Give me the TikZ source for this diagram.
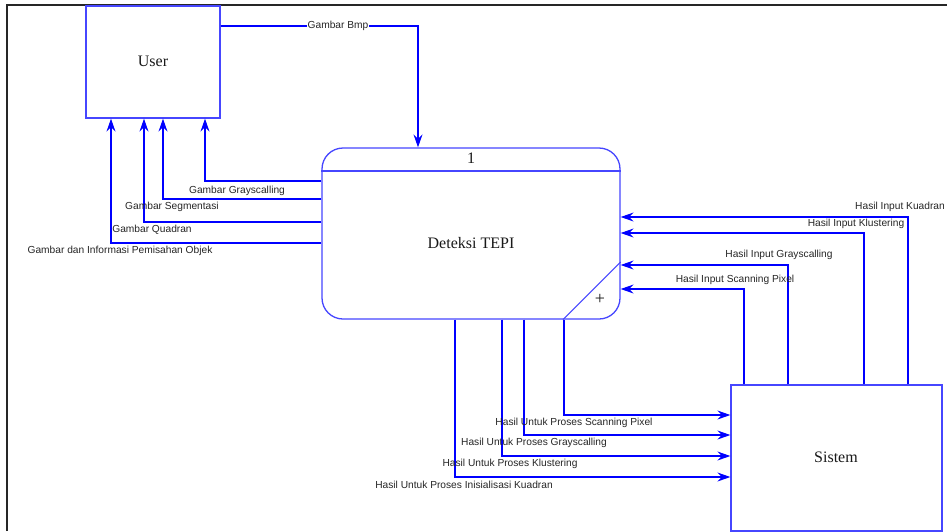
\documentclass[tikz,border=0pt]{standalone}
\usepackage{fontspec}
\setmainfont{Liberation Serif}
\setsansfont{Liberation Sans}
\usetikzlibrary{arrows.meta}
\definecolor{lnblue}{RGB}{0,0,255}
\definecolor{bxblue}{RGB}{70,70,255}
\begin{document}
\begin{tikzpicture}[x=1pt,y=-1pt,
  box/.style={draw=bxblue, line width=1.3pt, fill=white, inner sep=0pt},
  flow/.style={draw=lnblue, line width=1.1pt, -{Stealth[length=13pt,width=9pt,inset=4.5pt]}},
  lbl/.style={font=\sffamily\fontsize{10.2}{12}\selectfont, text=black!85, inner sep=1pt},
  ttl/.style={font=\fontsize{16}{19}\selectfont, text=black!90}]
\useasboundingbox (0,0) rectangle (947,531);
\fill[white] (0,0) rectangle (947,531);
\draw[line width=2pt, black!85] (7,531) -- (7,5) -- (947,5);

% nodes
\node[box, minimum width=134pt, minimum height=112pt] (user) at (153,62) {};
\node[ttl] (usert) at (153,61) {User};
\node[box, rounded corners=21pt, minimum width=298pt, minimum height=171pt] (proc) at (471,233.5) {};
\draw[bxblue, line width=1.3pt] (proc.west |- 0,171) -- (proc.east |- 0,171);
\draw[bxblue, line width=1pt] (proc.south -| 563,0) -- (proc.east |- 0,262);
\node[ttl] (pnum) at (471,158) {1};
\node[ttl] (pname) at (471,243) {Deteksi TEPI};
\node[font=\fontsize{18}{20}\selectfont, text=black!90] (plus) at (600,299) {+};
\node[box, minimum width=211pt, minimum height=146pt] (sys) at (836.5,458) {};
\node[ttl] (syst) at (836,457) {Sistem};

% User -> process
\draw[flow] (user.east |- 0,26) -| (proc.north -| 418,0);
\node[lbl, fill=white] (lbmp) at (338,26) {Gambar Bmp};

% process -> User
\draw[flow] (proc.west |- 0,181) -| (user.south -| 205,0);
\draw[flow] (proc.west |- 0,199) -| (user.south -| 163,0);
\draw[flow] (proc.west |- 0,222) -| (user.south -| 144,0);
\draw[flow] (proc.west |- 0,243) -| (user.south -| 111,0);
\node[lbl] (lg1) at (237,191) {Gambar Grayscalling};
\node[lbl] (lg2) at (172,207) {Gambar Segmentasi};
\node[lbl] (lg3) at (152,230) {Gambar Quadran};
\node[lbl] (lg4) at (120,251) {Gambar dan Informasi Pemisahan Objek};

% Sistem -> process
\draw[flow] (sys.north -| 908,0) |- (proc.east |- 0,217);
\draw[flow] (sys.north -| 864,0) |- (proc.east |- 0,233);
\draw[flow] (sys.north -| 788,0) |- (proc.east |- 0,265);
\draw[flow] (sys.north -| 744,0) |- (proc.east |- 0,289);
\node[lbl] (li1) at (900,207) {Hasil Input Kuadran};
\node[lbl] (li2) at (856,224) {Hasil Input Klustering};
\node[lbl] (li3) at (779,255) {Hasil Input Grayscalling};
\node[lbl] (li4) at (735,280) {Hasil Input Scanning Pixel};

% process -> Sistem
\draw[flow] (proc.south -| 564,0) |- (sys.west |- 0,415);
\draw[flow] (proc.south -| 524,0) |- (sys.west |- 0,435);
\draw[flow] (proc.south -| 502,0) |- (sys.west |- 0,456);
\draw[flow] (proc.south -| 455,0) |- (sys.west |- 0,477);
\node[lbl] (lu1) at (574,423) {Hasil Untuk Proses Scanning Pixel};
\node[lbl] (lu2) at (534,443) {Hasil Untuk Proses Grayscalling};
\node[lbl] (lu3) at (510,464) {Hasil Untuk Proses Klustering};
\node[lbl] (lu4) at (464,485) {Hasil Untuk Proses Inisialisasi Kuadran};
\end{tikzpicture}
\end{document}
